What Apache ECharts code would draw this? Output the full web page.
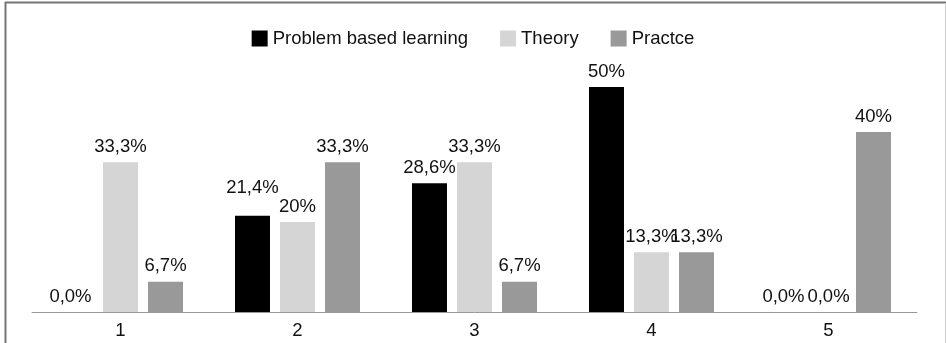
<!DOCTYPE html>
<html>
<head>
<meta charset="utf-8">
<script src="https://cdn.jsdelivr.net/npm/echarts@6/dist/echarts.min.js"></script>
<style>
  html, body { margin: 0; padding: 0; background: #fff; }
  #chart { width: 946px; height: 343px; }
</style>
</head>
<body>
<div id="chart"></div>
<script>
// Categories along the x axis
var categories = ['1', '2', '3', '4', '5'];

// Percentage shares per group
var problemBased = [0, 21.4, 28.6, 50, 0];
var theory = [33.3, 20, 33.3, 13.3, 0];
var practice = [6.7, 33.3, 6.7, 13.3, 40];

// Extra lift for labels that sit higher above their bar
var problemBasedLift = [0, 12, 0, 0, 0];
// Horizontal nudge for labels that sit off-centre
var problemBasedShift = [-5, 0, 0, 0, 0];

var FONT = '"Liberation Sans", Arial, Helvetica, sans-serif';
var FONT_SIZE = 18.5;

function fmt(v) {
  if (v === 0) return '0,0%';
  if (Number.isInteger(v)) return v + '%';
  return v.toFixed(1).replace('.', ',') + '%';
}

function buildData(values, lift, shift) {
  return values.map(function (v, i) {
    var item = { value: v };
    var lbl = {};
    var custom = false;
    if (lift && lift[i]) { lbl.distance = 6 + lift[i]; custom = true; }
    if (shift && shift[i]) { lbl.offset = [shift[i], 0]; custom = true; }
    if (custom) item.label = lbl;
    return item;
  });
}

function makeSeries(name, values, color, lift, shift) {
  return {
    name: name,
    type: 'bar',
    barWidth: 35,
    barGap: '28.6%',
    itemStyle: { color: color },
    label: {
      show: true,
      position: 'top',
      distance: 6,
      color: '#111111',
      fontFamily: FONT,
      fontSize: FONT_SIZE,
      formatter: function (p) { return fmt(p.value); }
    },
    data: buildData(values, lift, shift)
  };
}

var chart = echarts.init(document.getElementById('chart'), null, { renderer: 'canvas' });

chart.setOption({
  animation: false,
  backgroundColor: '#ffffff',
  legend: {
    top: 24,
    left: 'center',
    padding: 5,
    itemWidth: 16,
    itemHeight: 16,
    itemGap: 32,
    icon: 'rect',
    textStyle: { fontFamily: FONT, fontSize: FONT_SIZE, color: '#111111' },
    data: ['Problem based learning', 'Theory', 'Practce']
  },
  grid: { left: 32, right: 29, top: 42, bottom: 31 },
  xAxis: {
    type: 'category',
    data: categories,
    axisTick: { show: false },
    axisLine: { lineStyle: { color: '#999999', width: 1 } },
    axisLabel: { fontFamily: FONT, fontSize: FONT_SIZE, color: '#111111', margin: 9 }
  },
  yAxis: {
    type: 'value',
    min: 0,
    max: 60,
    show: false,
    splitLine: { show: false }
  },
  graphic: [
    { type: 'line', shape: { x1: 5, y1: 2.5, x2: 946, y2: 2.5 }, style: { stroke: '#747474', lineWidth: 2 } },
    { type: 'line', shape: { x1: 5.5, y1: 2, x2: 5.5, y2: 343 }, style: { stroke: '#747474', lineWidth: 2 } },
    { type: 'line', shape: { x1: 945.5, y1: 3, x2: 945.5, y2: 343 }, style: { stroke: '#cfcfcf', lineWidth: 1 } }
  ],
  series: [
    makeSeries('Problem based learning', problemBased, '#000000', problemBasedLift, problemBasedShift),
    makeSeries('Theory', theory, '#d5d5d5'),
    makeSeries('Practce', practice, '#999999')
  ]
});
</script>
</body>
</html>
